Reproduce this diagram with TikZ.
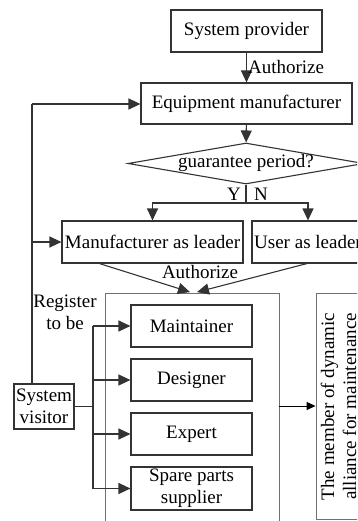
\documentclass[tikz,border=0pt]{standalone}
\usepackage{fontspec}
\setmainfont{Liberation Serif}
\usetikzlibrary{arrows.meta,shapes.geometric}
\definecolor{ink}{HTML}{333333}
\definecolor{frame}{HTML}{707070}
\tikzset{
  box/.style={draw=ink,line width=1.1pt,inner sep=0pt,align=center,
    font=\fontsize{19}{22}\selectfont},
  lbl/.style={inner sep=0pt,font=\fontsize{19}{22}\selectfont,text=black},
  link/.style={draw=ink,line width=1.1pt},
  arr/.style={link,-{Triangle[length=12pt,width=11pt]}},
  thinarr/.style={draw=black,line width=1pt,-{Triangle[length=9pt,width=8pt]}},
}
\begin{document}
\begin{tikzpicture}[x=1pt,y=-1pt]
\useasboundingbox (0,0) rectangle (357,521);
\clip (0,0) rectangle (357,521);

% decision chain
\node[box,minimum width=151pt,minimum height=42pt] (prov) at (246.5,31) {System provider};
\node[box,minimum width=211pt,minimum height=41pt] (equip) at (246.5,103.5) {Equipment manufacturer};
\node[box,shape=diamond,aspect=5.76,minimum width=236pt,minimum height=41pt] (guar) at (246,163.5) {};
\node[lbl] (guartxt) at (246,163) {guarantee period?};
\node[box,minimum width=181pt,minimum height=42pt] (mlead) at (152.5,242) {Manufacturer as leader};
\node[box,minimum width=112pt,minimum height=42pt] (ulead) at (308,242) {User as leader};

\draw[arr] (prov) -- (equip) node[lbl,pos=0.5,anchor=west,xshift=1pt] {Authorize};
\draw[arr] (equip) -- (guar);
\coordinate (split) at (246,203);
\draw[link] (guar.south) -- (split);
\node[lbl] (yes) at (234,194) {Y};
\node[lbl] (no) at (261,194) {N};
\draw[arr] (split) -| (mlead.north);
\draw[arr] (split) -| (ulead.north);

% team frame and its members
\node[draw=frame,line width=0.8pt,inner sep=0pt,minimum width=174pt,minimum height=240pt] (team) at (192,413) {};
\node[box,minimum width=121pt,minimum height=42pt] (maint) at (191.5,326) {Maintainer};
\node[box,minimum width=121pt,minimum height=42pt] (design) at (191.5,380) {Designer};
\node[box,minimum width=121pt,minimum height=42pt] (expert) at (191.5,434) {Expert};
\node[box,minimum width=121pt,minimum height=43pt] (spare) at (191.5,488.5) {Spare parts\\supplier};

% both leaders authorize the team
\draw[arr] ([xshift=38pt]mlead.south west) -- ([xshift=-2pt,yshift=0.5pt]team.north);
\draw[arr] ([xshift=-1pt]ulead.south) -- ([xshift=5pt,yshift=0.5pt]team.north);
\node[lbl] (authlbl) at (200,272) {Authorize};

% visitor
\node[box,minimum width=60pt,minimum height=45pt] (visit) at (44,406.5) {System\\visitor};
\node[lbl,align=center] (reg) at (65,312) {Register\\to be};
\coordinate (up) at (32,104);
\coordinate (mid) at (32,242);
\draw[link] (visit.north -| up) -- (up);
\draw[arr] (up) -- (equip.west |- up);
\draw[arr] (mid) -- (mlead.west);
\coordinate (bus) at (93,406.5);
\coordinate (bustop) at (93,326);
\coordinate (busbot) at (93,488.5);
\draw[link] (visit.east) -- (bus);
\draw[link] (bustop) -- (busbot);
\draw[arr] (bustop) -- (maint.west);
\draw[arr] (bustop |- design) -- (design.west);
\draw[arr] (bustop |- expert) -- (expert.west);
\draw[arr] (busbot) -- (spare.west);

% resulting alliance
\node[draw=frame,line width=0.8pt,inner sep=0pt,minimum width=44pt,minimum height=226pt] (member) at (338,406) {};
\node[lbl,rotate=90,align=center] (membertxt) at (338.5,406.5) {The member of dynamic\\alliance for maintenance};
\draw[thinarr] (team.east |- member) -- (member.west);
\end{tikzpicture}
\end{document}
